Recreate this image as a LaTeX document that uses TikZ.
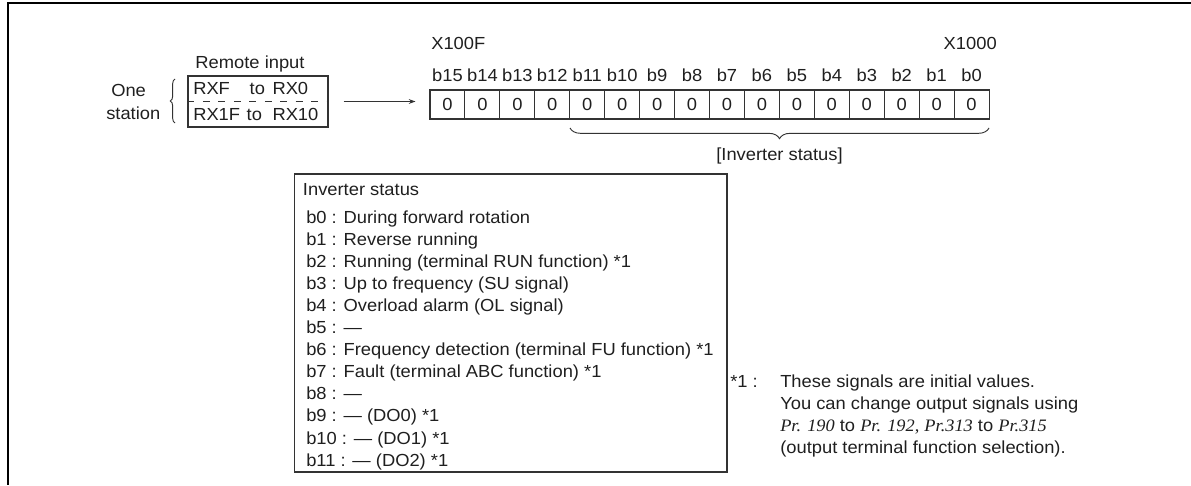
\documentclass[tikz,border=0pt]{standalone}
\usepackage{fontspec}
\setmainfont{Liberation Sans}[FakeStretch=1.05]
\newfontfamily\prfont{Liberation Serif}[FakeStretch=1.05]
\usetikzlibrary{decorations.pathreplacing,arrows.meta,calc}
\definecolor{txt}{gray}{0.12}
\definecolor{ln}{gray}{0.2}
\begin{document}
\begin{tikzpicture}[x=0.75pt,y=-0.75pt,
  every node/.style={font=\fontsize{13.1}{14}\selectfont, text=txt, inner sep=0pt},
  tl/.style={anchor=base west},
  tc/.style={anchor=base},
  cellbox/.style={draw=ln, line width=0.8pt, minimum width=26.2pt, minimum height=21.75pt},
  boxline/.style={draw=ln, line width=0.8pt},
  arr/.style={draw=ln, line width=0.7pt, -{Stealth[length=5pt,width=3.6pt]}},
  brc/.style={draw=ln, line width=0.7pt, decorate},
  frame/.style={draw=black, line width=1.7pt}]
\useasboundingbox (0,0) rectangle (1191,485);
% frame
\coordinate (fTR) at (1191,2.8);
\coordinate (fTL) at (7.8,2.8);
\coordinate (fBL) at (7.8,485);
\draw[frame] (fTR) -- (fTL) -- (fBL);
% remote input
\node[tc] (remlab) at (250,69) {Remote input};
\node[boxline, minimum width=105pt, minimum height=38.25pt] (rbox) at (258,101.5) {};
\draw[ln, line width=0.8pt, dash pattern=on 5.2pt off 6.4pt] (rbox.west) -- (rbox.east);
\node[tl] (rx1f) at (193,120) {RX1F};
\node[tl] (to2) at ($(rx1f.base east)+(6,0)$) {to};
\node[tl] (rx10) at ($(to2.base east)+(10,0)$) {RX10};
\node[tl] (rxf) at (193,94) {RXF};
\node[tl] (rx0) at ($(rx10.base west)+(0,-26)$) {RX0};
\node[anchor=base east] (to1) at ($(rx0.base west)+(-7,0)$) {to};
\node[tl] (one) at (111,96) {One};
\node[tl] (station) at (106,119) {station};
\coordinate (pT) at (175,79);
\coordinate (pB) at (175,123);
\draw[brc, decoration={brace, amplitude=3.5pt, aspect=0.5}] (pB) -- (pT);
% register
\node[tl] (xhi) at (431,50) {X100F};
\node[anchor=base east] (xlo) at (997,50) {X1000};
\foreach \i in {0,...,15}{
  \pgfmathsetmacro{\cx}{430+34.94*(15-\i)+17.47}
  \node[cellbox] (c\i) at (\cx,104.5) {0};
  \node[tc] (l\i) at (\cx,81) {b\i};
}
\draw[arr, shorten <=11.25pt, shorten >=10.5pt] (rbox.east) -- (rbox.east -| c15.west);
\coordinate (bR) at (989,128);
\coordinate (bL) at (570,128);
\draw[brc, decoration={brace, amplitude=8pt, aspect=0.5}] (bR) -- (bL);
\node[tc] (invst) at (779.5,160) {[Inverter status]};
% inverter status box
\node[boxline, minimum width=324.4pt, minimum height=223.5pt] (ibox) at (510.75,323) {};
\node[tl] (ih) at (302.7,195) {Inverter status};
\node[tl] (i0) at (306,223) {b0 : During forward rotation};
\node[tl] (i1) at (306,245.1) {b1 : Reverse running};
\node[tl] (i2) at (306,267.2) {b2 : Running (terminal RUN function) *1};
\node[tl] (i3) at (306,289.3) {b3 : Up to frequency (SU signal)};
\node[tl] (i4) at (306,311.4) {b4 : Overload alarm (OL signal)};
\node[tl] (i5) at (306,333.5) {b5 : —};
\node[tl] (i6) at (306,355.6) {b6 : Frequency detection (terminal FU function) *1};
\node[tl] (i7) at (306,377.7) {b7 : Fault (terminal ABC function) *1};
\node[tl] (i8) at (306,399.8) {b8 : —};
\node[tl] (i9) at (306,421.9) {b9 : — (DO0) *1};
\node[tl] (i10) at (306,444) {b10 : — (DO1) *1};
\node[tl] (i11) at (306,466.1) {b11 : — (DO2) *1};
% footnote
\node[tl] (fn) at (730,387) {*1 :};
\node[tl] (f1) at (780,387) {These signals are initial values.};
\node[tl] (f2) at (780,409) {You can change output signals using};
\node[tl] (f3) at (780,431) {{\prfont\itshape Pr. 190} to {\prfont\itshape Pr. 192}{\prfont ,} {\prfont\itshape Pr.313} to {\prfont\itshape Pr.315}};
\node[tl] (f4) at (780,453) {(output terminal function selection).};
\end{tikzpicture}
\end{document}
